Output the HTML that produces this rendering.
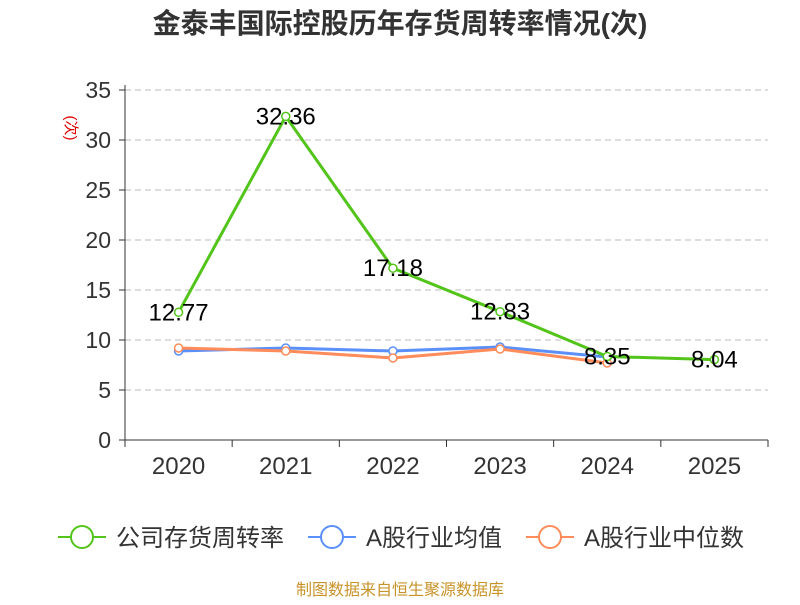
<!DOCTYPE html>
<html><head><meta charset="utf-8"><style>
body{margin:0;background:#fff;font-family:"Liberation Sans","Noto Sans CJK SC",sans-serif}
</style></head><body>
<svg id="c" width="800" height="600" xmlns="http://www.w3.org/2000/svg" font-family="Liberation Sans, Noto Sans CJK SC, sans-serif">
<text x="400" y="33" text-anchor="middle" font-size="28" font-weight="bold" fill="#333">金泰丰国际控股历年存货周转率情况(次)</text>
<text x="66" y="128" font-size="15" fill="#d00" transform="rotate(90 66 128)" text-anchor="middle">(次)</text>
<g id="grid"></g><g id="axes"></g><g id="series"></g>
<g id="legend"></g>
<text x="400" y="595" text-anchor="middle" font-size="16" fill="#c8932a">制图数据来自恒生聚源数据库</text>
</svg>
<script>
const categories=["2020","2021","2022","2023","2024","2025"];
const companyVals=[12.77,32.36,17.18,12.83,8.35,8.04];
const avgVals=[8.9,9.2,8.9,9.3,8.3,null];
const medVals=[9.2,8.9,8.2,9.1,7.7,null];
const yTicks=[0,5,10,15,20,25,30,35];
const NS="http://www.w3.org/2000/svg";
const x0=125,x1=768,y0=440,y1=90,yMax=35;
const bw=(x1-x0)/categories.length;
const xs=i=>x0+bw*(i+0.5);
const ys=v=>y0-(v/yMax)*(y0-y1);
function mk(tag,attrs,parent){const e=document.createElementNS(NS,tag);for(const k in attrs)e.setAttribute(k,attrs[k]);document.getElementById(parent).appendChild(e);return e;}
yTicks.forEach(t=>{
 if(t>0){const g=mk('line',{x1:x0,x2:x1,y1:ys(t),y2:ys(t),stroke:'#bbb','stroke-dasharray':'6,4'},'grid');
 
 }
 const tk=mk('line',{x1:x0-6,x2:x0,y1:ys(t),y2:ys(t),stroke:'#333'},'axes');
 
 
 const l=mk('text',{x:x0-14,y:ys(t)+8,'text-anchor':'end','font-size':23,fill:'#333'},'axes');l.textContent=t;
 
 
});
let ya=mk('line',{x1:x0,x2:x0,y1:y1-5,y2:y0,stroke:'#333'},'axes');


let xa=mk('line',{x1:x0,x2:x1,y1:y0,y2:y0,stroke:'#333'},'axes');


for(let i=0;i<=categories.length;i++){const t=mk('line',{x1:x0+bw*i,x2:x0+bw*i,y1:y0,y2:y0+7,stroke:'#333'},'axes');
 
 }
categories.forEach((c,i)=>{const l=mk('text',{x:xs(i),y:474,'text-anchor':'middle','font-size':24,fill:'#333'},'axes');l.textContent=c;
 
 });
function series(vals,color,name,labels){
 const pts=vals.map((v,i)=>v==null?null:[xs(i),ys(v)]).filter(p=>p);
 const p=mk('polyline',{points:pts.map(q=>q.join(',')).join(' '),fill:'none',stroke:color,'stroke-width':3},'series');
 
 
 vals.forEach((v,i)=>{if(v==null)return;
  const c=mk('circle',{cx:xs(i),cy:ys(v),r:4,fill:'#fff',stroke:color,'stroke-width':1.5},'series');
  
  
  if(labels){const t=mk('text',{x:xs(i),y:ys(v)+8,'text-anchor':'middle','font-size':24,fill:'#000'},'series');t.textContent=v.toFixed(2);
   
   }
 });
}
series(avgVals,'#5b8ff9','industry-average',false);
series(medVals,'#ff8c5a','industry-median',false);
series(companyVals,'#52c41a','company',true);
const leg=[["公司存货周转率",'#52c41a',58],["A股行业均值",'#5b8ff9',308],["A股行业中位数",'#ff8c5a',526]];
leg.forEach(([n,c,x])=>{
 const g=mk('g',{},'legend');
 
 
 const ln=document.createElementNS(NS,'line');ln.setAttribute('x1',x);ln.setAttribute('x2',x+48);ln.setAttribute('y1',537);ln.setAttribute('y2',537);ln.setAttribute('stroke',c);ln.setAttribute('stroke-width',2);g.appendChild(ln);
 const ci=document.createElementNS(NS,'circle');ci.setAttribute('cx',x+24);ci.setAttribute('cy',537);ci.setAttribute('r',11);ci.setAttribute('fill','#fff');ci.setAttribute('stroke',c);ci.setAttribute('stroke-width',2);g.appendChild(ci);
 const t=document.createElementNS(NS,'text');t.setAttribute('x',x+58);t.setAttribute('y',546);t.setAttribute('font-size',24);t.setAttribute('fill','#333');t.textContent=n;g.appendChild(t);
});
</script>
</body></html>
